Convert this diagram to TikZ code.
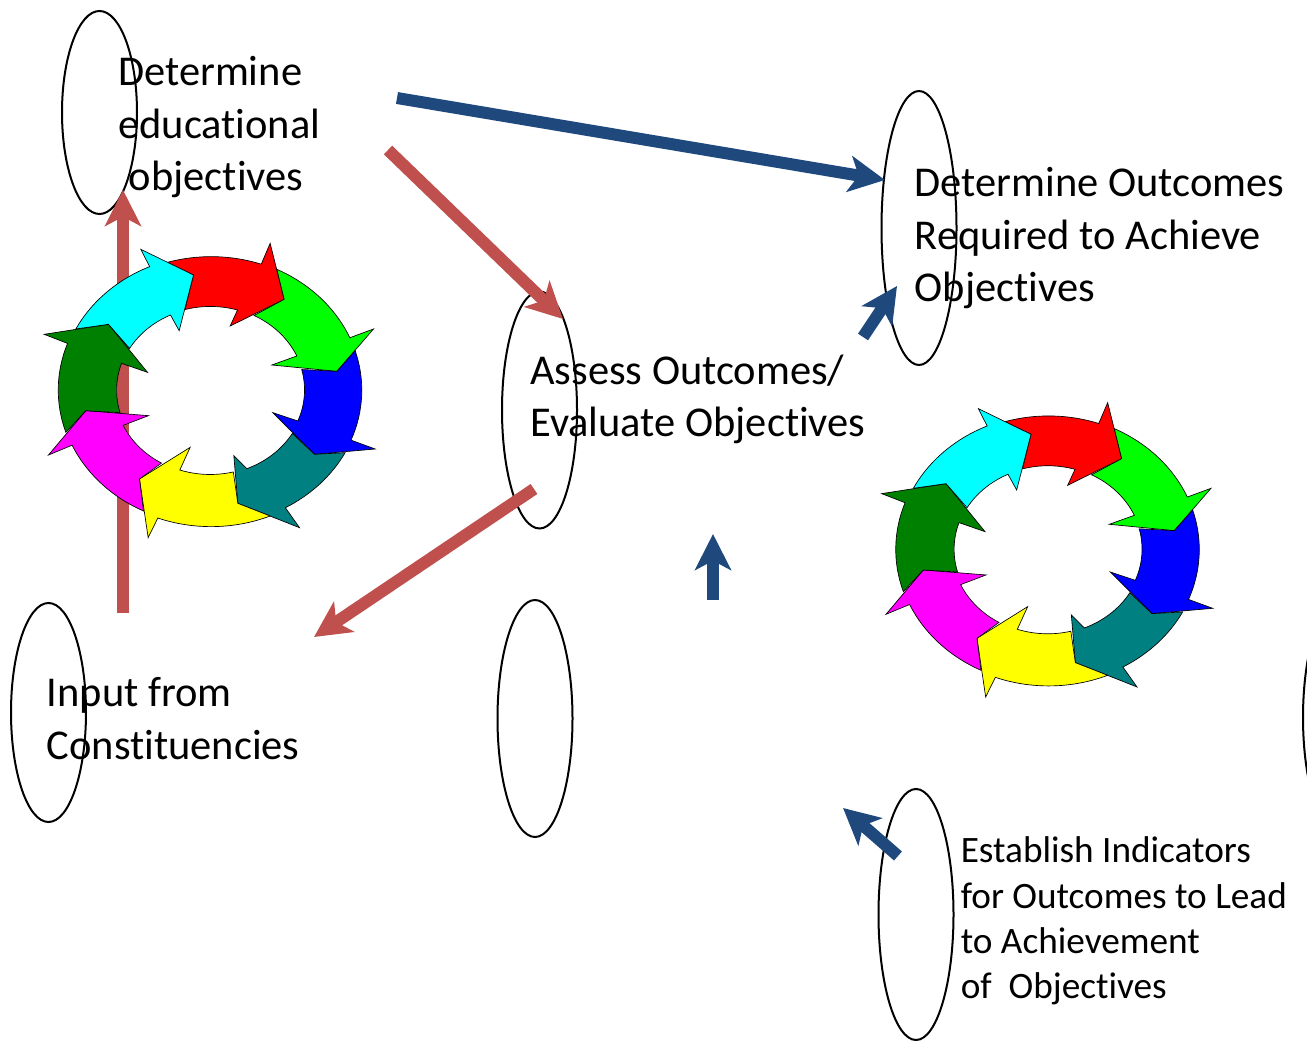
\documentclass[tikz,border=0pt]{standalone}
\usepackage{fontspec}
\setmainfont[Ligatures=NoCommon]{Carlito}
\usetikzlibrary{shapes.geometric,arrows.meta}
\definecolor{arrowred}{HTML}{C0504D}
\definecolor{arrowblue}{HTML}{1F497D}
\definecolor{ringteal}{HTML}{008080}
\definecolor{ringgreen}{HTML}{00FF00}
\definecolor{ringdark}{HTML}{008000}
\definecolor{ringblue}{HTML}{0000FF}
\definecolor{ringred}{HTML}{FF0000}
\definecolor{ringyellow}{HTML}{FFFF00}
\definecolor{ringmagenta}{HTML}{FF00FF}
\definecolor{ringcyan}{HTML}{00FFFF}
\tikzset{
  oval/.style={draw=black,line width=1.5pt,ellipse,minimum width=56.25pt,inner sep=0pt},
  ringpart/.style={draw=black,line width=0.5pt,miter limit=10},
  bigarrow/.style={line width=9pt,-{Stealth[length=27pt,width=27pt,inset=7pt]}},
  redarrow/.style={bigarrow,draw=arrowred,color=arrowred},
  bluearrow/.style={bigarrow,draw=arrowblue,color=arrowblue},
  bigtext/.style={anchor=north west,inner sep=0pt,align=left,font=\fontsize{31.85}{39.2}\selectfont},
  smalltext/.style={anchor=north west,inner sep=0pt,align=left,font=\fontsize{27.95}{34.05}\selectfont}
}
\newcommand{\outerarc}[4]{arc[start angle={atan2(#2/406,#1/456)},delta angle={-mod(atan2(#2/406,#1/456)-atan2(#4/406,#3/456)+360,360)},x radius=456,y radius=406]}
\newcommand{\innerarc}[4]{arc[start angle={atan2(#2/251.5,#1/282.5)},delta angle={mod(atan2(#4/251.5,#3/282.5)-atan2(#2/251.5,#1/282.5)+360,360)},x radius=282.5,y radius=251.5]}
\newcommand{\colorring}{%
  \draw[ringpart,fill=ringred] (-129,383) \outerarc{-129}{383}{149}{380} -- (179,440) -- (221,272) -- (59,192) -- (81,240) \innerarc{81}{240}{-76}{242} -- (-51,345) -- cycle;
  \draw[ringpart,fill=ringgreen] (199,362) \outerarc{199}{362}{421}{160} -- (489,183) -- (379,56) -- (184,75) -- (259,102) \innerarc{259}{102}{131}{225} -- (221,272) -- cycle;
  \draw[ringpart,fill=ringblue] (434,118) \outerarc{434}{118}{424}{-150} -- (494,-177) -- (312,-193) -- (187,-68) -- (262,-93) \innerarc{262}{-93}{277}{62} -- (379,56) -- cycle;
  \draw[ringpart,fill=ringteal] (404,-188) \outerarc{404}{-188}{224}{-352} -- (267,-413) -- (82,-340) -- (70,-197) -- (109,-236) \innerarc{109}{-236}{246}{-128} -- (312,-193) -- cycle;
  \draw[ringpart,fill=ringyellow] (179,-378) \outerarc{179}{-378}{-159}{-378} -- (-187,-443) -- (-213,-267) -- (-61,-172) -- (-92,-240) \innerarc{-92}{-240}{71}{-250} -- (82,-340) -- cycle;
  \draw[ringpart,fill=ringmagenta] (-201,-363) \outerarc{-201}{-363}{-419}{-168} -- (-486,-195) -- (-374,-62) -- (-186,-77) -- (-262,-106) \innerarc{-262}{-106}{-144}{-220} -- (-213,-267) -- cycle;
  \draw[ringpart,fill=ringdark] (-434,-127) \outerarc{-434}{-127}{-428}{140} -- (-499,167) -- (-306,197) -- (-189,53) -- (-267,80) \innerarc{-267}{80}{-276}{-69} -- (-374,-62) -- cycle;
  \draw[ringpart,fill=ringcyan] (-404,183) \outerarc{-404}{183}{-183}{367} -- (-209,422) -- (-51,345) -- (-94,178) -- (-120,225) \innerarc{-120}{225}{-246}{128} -- (-306,197) -- cycle;
}
\begin{document}
\begin{tikzpicture}[x=0.75pt,y=0.75pt]
\useasboundingbox (0,0) rectangle (1307,-1041);
% ovals
\node[oval,minimum height=152.25pt] (ovalA) at (99.5,-112.5) {};
\node[oval,minimum height=205.5pt] (ovalB) at (919,-228) {};
\node[oval,minimum height=177.75pt] (ovalC) at (539.5,-410) {};
\node[oval,minimum height=164.25pt] (ovalD) at (48.5,-712.5) {};
\node[oval,minimum height=177.75pt] (ovalE) at (535,-718.5) {};
\node[oval,minimum height=188.25pt] (ovalF) at (916,-914.5) {};
\node[oval,minimum height=177.75pt] (ovalG) at (1340.5,-717.5) {};
% connector ends
\coordinate (a1) at (397,-98);  \coordinate (a2) at (885,-180);
\coordinate (b1) at (388,-150); \coordinate (b2) at (563,-319);
\coordinate (c1) at (534,-489); \coordinate (c2) at (314,-637);
\coordinate (d1) at (123,-613); \coordinate (d2) at (123,-190);
\coordinate (e1) at (863,-337); \coordinate (e2) at (897,-286);
\coordinate (f1) at (713,-600); \coordinate (f2) at (713,-534);
\coordinate (g1) at (898,-856); \coordinate (g2) at (843,-808);
\draw[redarrow] (d1) -- (d2);
\draw[bluearrow] (a1) -- (a2);
\draw[redarrow] (b1) -- (b2);
\draw[redarrow] (c1) -- (c2);
\draw[bluearrow] (e1) -- (e2);
\draw[bluearrow] (f1) -- (f2);
\draw[bluearrow] (g1) -- (g2);
% rings
\begin{scope}[shift={(210.5,-390)},x=0.25pt,y=0.25pt]
\colorring
\end{scope}
\begin{scope}[shift={(1048,-549.3)},x=0.25pt,y=0.25pt]
\colorring
\end{scope}
% texts
\node[bigtext] (tA) at (118,-56.5) {Determine\\educational\\\hspace*{8pt}objectives};
\node[bigtext] (tB) at (914.5,-167.5) {Determine Outcomes\\Required to Achieve\\Objectives};
\node[bigtext] (tC) at (530,-354.5) {Assess Outcomes/\\Evaluate Objectives};
\node[bigtext] (tD) at (46.5,-677.5) {Input from\\Constituencies};
\node[smalltext] (tF) at (960.5,-836.5) {Establish Indicators\\for Outcomes to Lead\\to Achievement\\of\ \ Objectives};
\end{tikzpicture}
\end{document}
